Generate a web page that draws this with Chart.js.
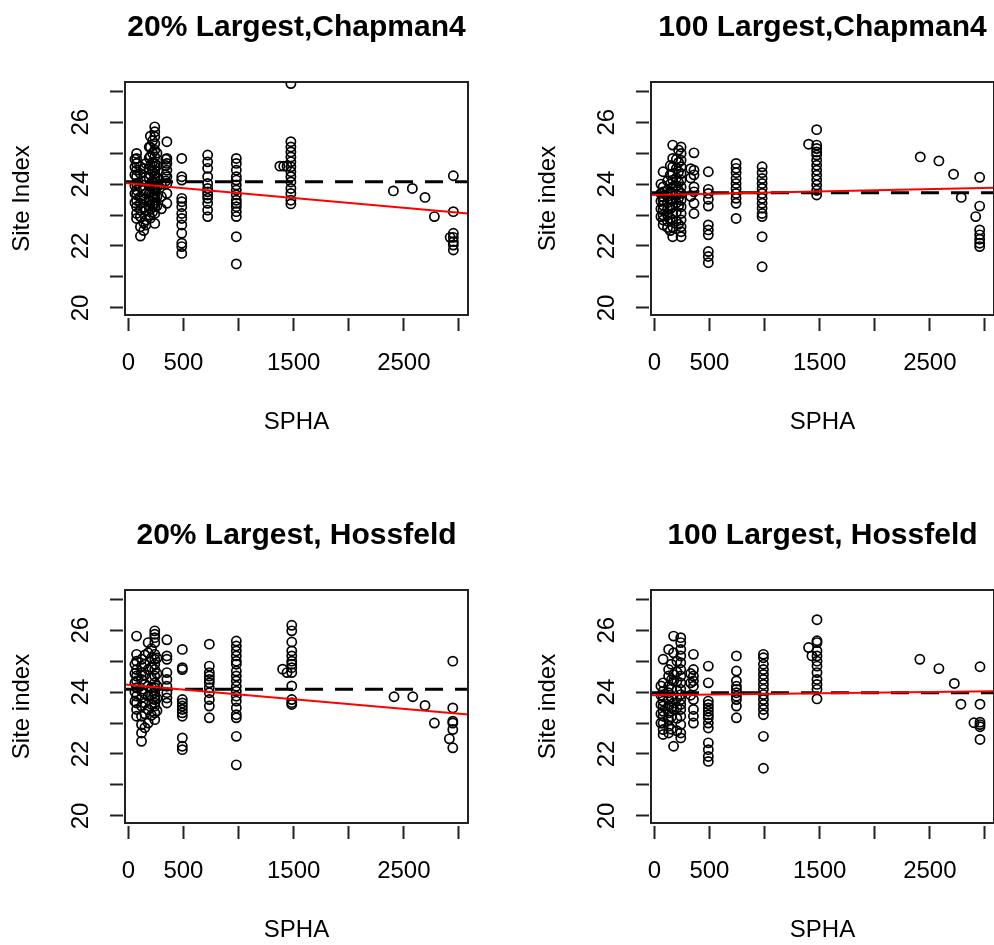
<!DOCTYPE html>
<html>
<head>
<meta charset="utf-8">
<title>Site index vs SPHA</title>
<script src="https://cdn.jsdelivr.net/npm/chart.js@4"></script>
<style>
  html, body { margin: 0; padding: 0; background: #fff; width: 994px; height: 945px; overflow: hidden; }
  canvas { position: absolute; }
</style>
</head>
<body>
<canvas id="chap20" width="527" height="508" style="left:0;top:0"></canvas>
<canvas id="chap100" width="527" height="508" style="left:526px;top:0"></canvas>
<canvas id="hoss20" width="527" height="508" style="left:0;top:508px"></canvas>
<canvas id="hoss100" width="527" height="508" style="left:526px;top:508px"></canvas>
<script>
// axis ranges and ticks (R style: every tick drawn, only non-overlapping labels shown)
const xMin = -30, xMax = 3082;
const yMin = 19.77, yMax = 27.3;
const xTicks = [0, 500, 1000, 1500, 2000, 2500, 3000];
const xLabels = [0, 500, 1500, 2500];
const yTicks = [20, 21, 22, 23, 24, 25, 26, 27];
const yLabels = [20, 22, 24, 26];

// points grouped by SPHA column: [SPHA, [site index values]]
const chap20Pts = [
  [60, [24.80, 24.55, 24.30, 23.95, 23.70, 23.40]],
  [75, [24.99, 24.83, 24.67, 24.45, 24.24, 24.02, 23.81, 23.65, 23.48, 23.27, 23.05, 22.89]],
  [110, [24.56, 24.34, 23.91, 23.59, 23.38, 23.16, 22.95, 22.62, 22.32]],
  [140, [24.50, 24.10, 23.80, 23.50, 23.25, 22.75, 22.50]],
  [160, [24.67, 24.24, 23.70, 23.16, 22.84, 22.68]],
  [190, [25.20, 24.85, 24.50, 24.20, 23.95, 23.70, 23.50, 23.30, 23.00]],
  [200, [25.55, 25.20, 24.90, 24.60, 24.30, 24.00, 23.75, 23.45, 23.20, 22.90]],
  [220, [25.40, 25.00, 24.70, 24.40, 24.10, 23.85, 23.60, 23.35, 23.10]],
  [240, [25.85, 25.69, 25.53, 25.31, 25.10, 24.88, 24.67, 24.56, 24.45, 24.34, 24.24, 24.13, 24.02, 23.91, 23.81, 23.70, 23.59, 23.48, 23.38, 23.27, 23.05, 22.73]],
  [260, [25.00, 24.60, 24.20, 23.90, 23.60, 23.30]],
  [300, [24.00, 23.60, 23.20]],
  [340, [24.80, 24.60, 24.30, 24.10]],
  [350, [25.37, 24.83, 24.67, 24.45, 24.24, 24.02, 23.70, 23.38]],
  [485, [24.83, 24.24, 24.13, 23.54, 23.43, 23.27, 23.05, 22.89, 22.68, 22.41, 22.09, 21.98, 21.76]],
  [720, [24.94, 24.72, 24.51, 24.24, 24.02, 23.86, 23.75, 23.65, 23.54, 23.38, 23.16, 22.95]],
  [980, [24.83, 24.67, 24.45, 24.24, 24.13, 23.97, 23.81, 23.65, 23.48, 23.38, 23.27, 23.11, 22.95, 22.30, 21.42]],
  [1375, [24.58]], [1410, [24.58]], [1440, [24.58]],
  [1475, [27.25, 25.37, 25.20, 25.04, 24.88, 24.72, 24.56, 24.40, 24.24, 24.07, 23.86, 23.70, 23.48, 23.36]],
  [2405, [23.78]], [2577, [23.86]], [2692, [23.57]], [2777, [22.95]],
  [2920, [22.28]],
  [2949, [24.27, 23.11, 22.41, 22.28, 22.14, 22.03, 21.87]]
];
const chap100Pts = [
  [60, [24.00, 23.70, 23.45, 23.20, 22.95]],
  [80, [24.40, 23.91, 23.75, 23.59, 23.48, 23.32, 23.16, 23.00, 22.84, 22.68]],
  [120, [24.10, 23.80, 23.60, 23.40, 23.20, 23.00, 22.80, 22.60]],
  [145, [24.60, 24.30, 24.00, 23.75, 23.50, 23.20, 22.90, 22.50]],
  [167, [25.26, 24.83, 24.56, 24.34, 24.13, 23.91, 23.70, 23.48, 23.27, 23.05, 22.84, 22.62, 22.30]],
  [200, [24.80, 24.50, 24.20, 23.95, 23.65, 23.40, 23.10, 22.80]],
  [220, [25.10, 24.70, 24.40, 24.05, 23.80, 23.55, 23.30, 22.70]],
  [243, [25.20, 24.99, 24.77, 24.56, 24.34, 24.13, 23.91, 23.70, 23.48, 23.27, 23.05, 22.84, 22.62, 22.46, 22.30]],
  [330, [24.50, 24.20, 23.60]],
  [360, [25.01, 24.45, 24.30, 23.91, 23.75, 23.38, 23.05]],
  [490, [24.40, 23.83, 23.70, 23.51, 23.29, 22.68, 22.52, 22.36, 21.82, 21.66, 21.46]],
  [742, [24.67, 24.51, 24.37, 24.18, 24.02, 23.86, 23.70, 23.54, 23.38, 22.89]],
  [978, [24.56, 24.37, 24.18, 24.02, 23.86, 23.70, 23.54, 23.38, 23.22, 23.05, 22.95, 22.30, 21.33]],
  [1400, [25.29]],
  [1473, [25.76, 25.26, 25.15, 25.04, 24.94, 24.77, 24.61, 24.45, 24.29, 24.13, 23.97, 23.80, 23.65]],
  [2413, [24.88]], [2582, [24.75]], [2715, [24.32]], [2785, [23.57]],
  [2916, [22.95]],
  [2952, [24.22, 23.29, 22.52, 22.36, 22.22, 22.09, 21.98]]
];
const hoss20Pts = [
  [60, [24.90, 24.60, 24.30, 24.00, 23.70]],
  [75, [25.81, 25.22, 25.00, 24.73, 24.52, 24.36, 24.14, 23.87, 23.65, 23.44, 23.22]],
  [120, [25.06, 24.84, 24.63, 24.41, 24.03, 23.81, 23.55, 23.22, 22.95, 22.68, 22.41]],
  [150, [25.20, 24.90, 24.55, 24.25, 23.95, 23.65, 23.30, 22.85]],
  [180, [25.60, 25.27, 24.73, 24.19, 23.87, 23.44, 23.00]],
  [210, [25.40, 25.10, 24.80, 24.45, 24.15, 23.90, 23.60, 23.25]],
  [240, [25.98, 25.87, 25.76, 25.60, 25.22, 25.06, 24.90, 24.73, 24.52, 24.30, 24.14, 23.98, 23.87, 23.76, 23.65, 23.55, 23.33, 23.11]],
  [260, [25.10, 24.60, 24.20, 23.80, 23.40]],
  [350, [25.69, 25.17, 25.06, 24.63, 24.41, 24.19, 23.98, 23.81, 23.65]],
  [490, [25.38, 24.79, 24.73, 23.76, 23.65, 23.55, 23.44, 23.33, 23.22, 22.52, 22.25, 22.14]],
  [735, [25.55, 24.84, 24.63, 24.52, 24.41, 24.30, 24.14, 23.98, 23.76, 23.55, 23.17]],
  [980, [25.65, 25.49, 25.33, 25.17, 25.00, 24.90, 24.68, 24.52, 24.36, 24.19, 24.03, 23.87, 23.71, 23.49, 23.27, 23.17, 22.57, 21.65]],
  [1400, [24.74]], [1440, [24.63]],
  [1483, [26.16, 25.98, 25.62, 25.33, 25.17, 25.00, 24.90, 24.79, 24.63, 24.20, 23.76, 23.66, 23.60]],
  [2411, [23.85]], [2581, [23.85]], [2692, [23.57]], [2777, [23.00]],
  [2913, [22.49]],
  [2944, [25.00, 23.49, 23.06, 23.00, 22.79, 22.20]]
];
const hoss100Pts = [
  [60, [24.20, 23.90, 23.60, 23.30, 23.00]],
  [80, [25.06, 24.30, 24.03, 23.87, 23.71, 23.55, 23.38, 23.22, 23.00, 22.79, 22.63]],
  [130, [25.38, 24.73, 24.52, 24.19, 23.98, 23.76, 23.55, 23.33, 23.11, 22.90, 22.68]],
  [155, [24.90, 24.40, 24.10, 23.85, 23.50, 23.20, 22.80]],
  [175, [25.81, 25.27, 24.57, 24.36, 23.65, 23.44, 22.25]],
  [205, [25.00, 24.65, 24.35, 24.05, 23.80, 23.50, 23.15, 22.75]],
  [240, [25.76, 25.60, 25.38, 25.17, 24.95, 24.73, 24.52, 24.30, 24.09, 23.92, 23.76, 23.60, 23.44, 23.22, 22.95, 22.68, 22.52]],
  [330, [24.60, 24.30, 23.90]],
  [355, [25.22, 24.73, 24.52, 24.36, 24.19, 23.76, 23.44, 23.22, 23.00]],
  [490, [24.84, 24.30, 23.71, 23.60, 23.49, 23.38, 23.27, 23.17, 23.00, 22.84, 22.36, 22.14, 21.92, 21.76]],
  [745, [25.17, 24.68, 24.36, 24.19, 24.09, 23.98, 23.87, 23.76, 23.55, 23.17]],
  [990, [25.22, 25.11, 24.90, 24.73, 24.57, 24.41, 24.25, 24.09, 23.92, 23.76, 23.60, 23.44, 23.27, 22.57, 21.54]],
  [1400, [25.44]], [1430, [25.17]],
  [1476, [26.34, 25.66, 25.60, 25.33, 25.17, 25.00, 24.84, 24.63, 24.41, 24.25, 24.09, 23.78]],
  [2409, [25.06]], [2582, [24.76]], [2722, [24.28]], [2782, [23.61]],
  [2900, [23.01]],
  [2955, [24.82, 23.61, 23.03, 22.95, 22.88, 22.47]]
];

// dashed mean line and red fitted line (value at left edge, value at right edge)
const chap20Mean = 24.08, chap20Fit = [24.04, 23.05];
const chap100Mean = 23.72, chap100Fit = [23.65, 23.88];
const hoss20Mean = 24.09, hoss20Fit = [24.25, 23.28];
const hoss100Mean = 23.98, hoss100Fit = [23.90, 24.03];

Chart.defaults.font.family = '"Liberation Sans", Arial, sans-serif';
Chart.defaults.color = '#000';

const plotBox = {
  id: 'plotBox',
  afterDatasetsDraw(chart) {
    const { ctx, chartArea: a } = chart;
    ctx.save();
    ctx.strokeStyle = '#222';
    ctx.lineWidth = 2;
    ctx.strokeRect(a.left, a.top, a.right - a.left, a.bottom - a.top);
    ctx.restore();
  }
};

function flatten(cols) {
  const out = [];
  cols.forEach(([x, ys]) => ys.forEach((y) => out.push({ x, y })));
  return out;
}

function makePanel(id, title, yTitle, pts, mean, fit) {
  const ctx = document.getElementById(id).getContext('2d');
  return new Chart(ctx, {
    type: 'scatter',
    data: {
      datasets: [
        {
          data: [{ x: xMin, y: fit[0] }, { x: xMax, y: fit[1] }],
          showLine: true,
          borderColor: '#ff0000',
          borderWidth: 2,
          pointRadius: 0,
          clip: 0
        },
        {
          data: [{ x: xMin, y: mean }, { x: xMax, y: mean }],
          showLine: true,
          borderColor: '#000',
          borderWidth: 3,
          borderDash: [18, 12],
          pointRadius: 0,
          clip: 0
        },
        {
          data: flatten(pts),
          pointStyle: 'circle',
          pointRadius: 4.6,
          pointBorderWidth: 1.7,
          pointBorderColor: '#000',
          pointBackgroundColor: 'rgba(0,0,0,0)',
          clip: 0
        }
      ]
    },
    options: {
      responsive: false,
      animation: false,
      devicePixelRatio: 1,
      events: [],
      layout: { padding: { left: 0, right: 59, top: 0, bottom: 0 } },
      plugins: {
        legend: { display: false },
        tooltip: { enabled: false },
        title: {
          display: true,
          text: title,
          fullSize: false,
          color: '#000',
          font: { size: 30, weight: 'bold' },
          padding: { top: 10, bottom: 36 }
        }
      },
      scales: {
        x: {
          type: 'linear',
          position: 'bottom',
          min: xMin,
          max: xMax,
          bounds: 'data',
          afterBuildTicks: (s) => { s.ticks = xTicks.map((v) => ({ value: v })); },
          afterFit: (s) => { s.height = 193; },
          border: { display: false },
          grid: {
            drawOnChartArea: false,
            tickLength: 16,
            tickWidth: 2,
            tickColor: '#222',
            tickBorderDash: [0, 3, 13, 100]
          },
          ticks: {
            autoSkip: false,
            maxRotation: 0,
            padding: 17.6,
            color: '#000',
            font: { size: 24 },
            callback: (v) => (xLabels.includes(v) ? String(v) : '')
          },
          title: {
            display: true,
            text: 'SPHA',
            color: '#000',
            font: { size: 24 },
            padding: { top: 0, bottom: 71.6 }
          }
        },
        y: {
          type: 'linear',
          min: yMin,
          max: yMax,
          bounds: 'data',
          afterBuildTicks: (s) => { s.ticks = yTicks.map((v) => ({ value: v })); },
          afterFit: (s) => { s.width = 125; },
          border: { display: false },
          grid: {
            drawOnChartArea: false,
            tickLength: 15,
            tickWidth: 2,
            tickColor: '#222',
            tickBorderDash: [13, 100]
          },
          ticks: {
            autoSkip: false,
            minRotation: 90,
            maxRotation: 90,
            crossAlign: 'center',
            padding: 15.6,
            color: '#000',
            font: { size: 24 },
            callback: (v) => (yLabels.includes(v) ? String(v) : '')
          },
          title: {
            display: true,
            text: yTitle,
            color: '#000',
            font: { size: 24 },
            padding: { top: 7.6, bottom: 0 }
          }
        }
      }
    },
    plugins: [plotBox]
  });
}

makePanel('chap20', '20% Largest,Chapman4', 'Site Index', chap20Pts, chap20Mean, chap20Fit);
makePanel('chap100', '100 Largest,Chapman4', 'Site index', chap100Pts, chap100Mean, chap100Fit);
makePanel('hoss20', '20% Largest, Hossfeld', 'Site index', hoss20Pts, hoss20Mean, hoss20Fit);
makePanel('hoss100', '100 Largest, Hossfeld', 'Site index', hoss100Pts, hoss100Mean, hoss100Fit);
</script>
</body>
</html>
